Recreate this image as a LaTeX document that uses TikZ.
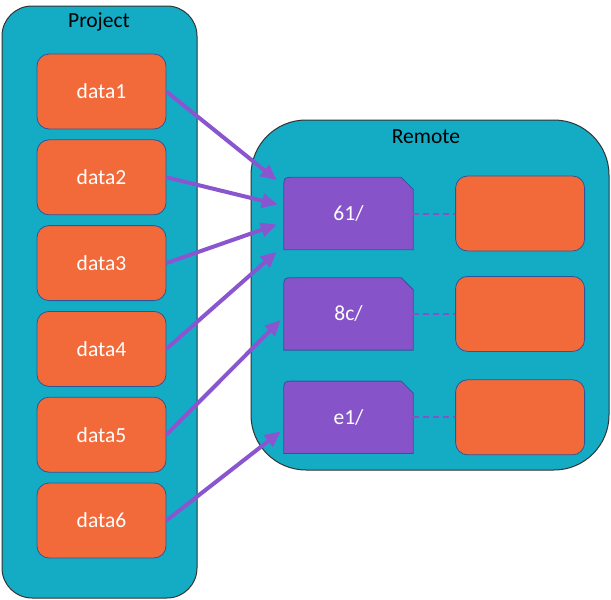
\documentclass[tikz,border=0pt]{standalone}
\usepackage{fontspec}
\setmainfont{Carlito}
\usetikzlibrary{positioning,arrows.meta}

\definecolor{boxteal}{RGB}{20,172,197}
\definecolor{dataorange}{RGB}{242,106,58}
\definecolor{dirpurple}{RGB}{134,84,200}
\definecolor{edgeblue}{RGB}{47,85,151}
\definecolor{arrowpurple}{RGB}{137,86,208}

\pgfdeclarelayer{back}
\pgfdeclarelayer{mid}
\pgfsetlayers{back,mid,main}

% purple directory shape: rounded top left, cut top right
\newcommand{\dirshape}[1]{%
  \filldraw[draw=edgeblue, fill=dirpurple, line width=0.8pt]
    (#1.south west) -- ([yshift=-10pt]#1.north west)
    .. controls (#1.north west) .. ([xshift=10pt]#1.north west)
    -- ([xshift=-12pt]#1.north east) -- ([yshift=-12pt]#1.north east)
    -- (#1.south east) -- cycle;}

\begin{document}
\begin{tikzpicture}[
  x=1pt, y=-1pt,
  font=\fontsize{21.5}{25}\selectfont,
  group/.style={
    draw=black!80,
    fill=boxteal,
    rounded corners=30pt,
    line width=1pt
  },
  datafile/.style={
    draw=edgeblue,
    fill=dataorange,
    rounded corners=12pt,
    minimum width=129pt,
    minimum height=75pt,
    text=white,
    line width=0.8pt
  },
  folder/.style={minimum width=129pt, minimum height=72pt, text=white},
  link/.style={arrowpurple, line width=4pt, -{Triangle[length=16pt,width=14pt]}},
  ref/.style={dirpurple, line width=2pt, dash pattern=on 6pt off 4pt},
  node distance=10pt and 42pt
]
\useasboundingbox (0,0) rectangle (611,600);

\begin{pgfonlayer}{back}
\draw[group] (2,6) rectangle (197,598);
\draw[group, rounded corners=55pt] (251,120) rectangle (609,470);
\end{pgfonlayer}

\node (project) at (99,22) {Project};
\node (remote) at (426,137) {Remote};

% local data files
\node[datafile] (data1) at (101.5,91.5) {data1};
\foreach \i [remember=\i as \j (initially 1)] in {2,...,6}
  \node[datafile, below=of data\j] (data\i) {data\i};

% cache directories
\node[folder] (f61) at (348.5,213.5) {61/};
\node[folder, below=28pt of f61] (f8c) {8c/};
\node[folder, below=31pt of f8c] (fe1) {e1/};

\begin{pgfonlayer}{mid}
\foreach \d in {f61,f8c,fe1}
  \dirshape{\d};
\end{pgfonlayer}

\node[datafile, right=of f61] (obj61) {};
\node[datafile, right=of f8c] (obj8c) {};
\node[datafile, right=of fe1] (obje1) {};

\draw[ref] (f61) -- (obj61);
\draw[ref] (f8c) -- (obj8c);
\draw[ref] (fe1) -- (obje1);

\draw[link] (data1.east) -- ([xshift=-7pt,yshift=-3pt]f61.north west);
\draw[link] (data2.east) -- ([xshift=-6pt,yshift=9pt]f61.west);
\draw[link] (data3.east) -- ([xshift=-7pt,yshift=-11pt]f61.west);
\draw[link] (data4.east) -- ([xshift=-7pt,yshift=-2pt]f61.south west);
\draw[link] (data5.east) -- ([xshift=-3pt,yshift=-6pt]f8c.west);
\draw[link] (data6.east) -- ([xshift=-3pt,yshift=-14pt]fe1.west);

\end{tikzpicture}
\end{document}
